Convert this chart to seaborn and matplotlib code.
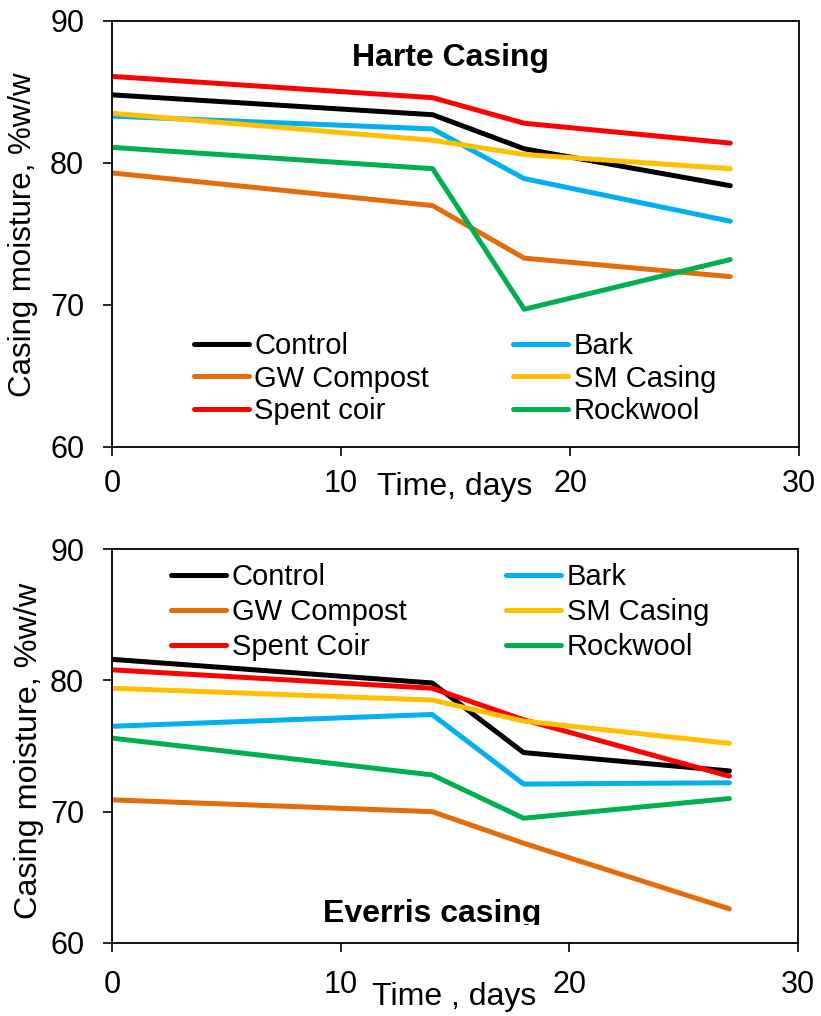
import matplotlib
matplotlib.use("Agg")
import matplotlib.pyplot as plt
from matplotlib.transforms import Bbox, TransformedBbox
import seaborn as sns
import pandas as pd

# ---- data ----
days = [0, 14, 18, 27]
treatments_top = ["Control", "GW Compost", "Spent coir", "Bark", "SM Casing", "Rockwool"]
treatments_bot = ["Control", "GW Compost", "Spent Coir", "Bark", "SM Casing", "Rockwool"]

harte_control = [84.8, 83.4, 81.0, 78.4]
harte_gw = [79.3, 77.0, 73.3, 72.0]
harte_coir = [86.1, 84.6, 82.8, 81.4]
harte_bark = [83.3, 82.4, 78.9, 75.9]
harte_sm = [83.5, 81.6, 80.6, 79.6]
harte_rock = [81.1, 79.6, 69.7, 73.2]

everris_control = [81.6, 79.8, 74.5, 73.1]
everris_gw = [70.9, 70.0, 67.6, 62.6]
everris_coir = [80.8, 79.4, 77.0, 72.7]
everris_bark = [76.5, 77.4, 72.1, 72.2]
everris_sm = [79.4, 78.5, 76.9, 75.2]
everris_rock = [75.6, 72.8, 69.5, 71.0]

colors = ["#000000", "#E46C0A", "#FF0000", "#00B0F0", "#FFC000", "#00B050"]
x_ticks = [0, 10, 20, 30]
y_ticks = [60, 70, 80, 90]


def long_df(names, series):
    rows = []
    for n, s in zip(names, series):
        for d, v in zip(days, s):
            rows.append({"Time": d, "Moisture": v, "Treatment": n})
    return pd.DataFrame(rows)


df_top = long_df(treatments_top, [harte_control, harte_gw, harte_coir,
                                  harte_bark, harte_sm, harte_rock])
df_bot = long_df(treatments_bot, [everris_control, everris_gw, everris_coir,
                                  everris_bark, everris_sm, everris_rock])

sns.set_theme(style="ticks")
plt.rcParams["font.family"] = ["Liberation Sans", "DejaVu Sans"]
plt.rcParams["text.color"] = "black"
plt.rcParams["axes.labelcolor"] = "black"
plt.rcParams["xtick.color"] = "black"
plt.rcParams["ytick.color"] = "black"

fig = plt.figure(figsize=(8.21, 10.16), dpi=100)
W, H = 821, 1016
ax1 = fig.add_axes([112 / W, 1 - 447 / H, 687 / W, 426 / H])
ax2 = fig.add_axes([112 / W, 1 - 943 / H, 686 / W, 394 / H])

LW = 3.6


def draw(ax, df, names, title, tx, ty, leg_anchor, colsp, lsp, xpad, xlabel, xl_y):
    pal = dict(zip(names, colors))
    sns.lineplot(data=df, x="Time", y="Moisture", hue="Treatment", hue_order=names,
                 palette=pal, lw=LW, ax=ax, legend=True, solid_capstyle="round")
    ax.set_xlim(0, 30)
    ax.set_ylim(60, 90)
    ax.set_xticks(x_ticks)
    ax.set_yticks(y_ticks)
    ax.tick_params(axis="both", labelsize=22, length=6.5, width=1.2,
                   direction="out", colors="black", labelcolor="black")
    ax.tick_params(axis="y", pad=13.5)
    ax.tick_params(axis="x", pad=xpad)
    for s in ax.spines.values():
        s.set_visible(True)
        s.set_linewidth(1.3)
        s.set_color("black")
    ax.set_xlabel("")
    ax.set_ylabel("")
    h, l = ax.get_legend_handles_labels()
    for hh in h:
        hh.set_linewidth(LW)
        hh.set_solid_capstyle("round")
    ax.legend(h, l, ncol=2, loc="upper left", bbox_to_anchor=leg_anchor,
              frameon=False, fontsize=21, handlelength=1.88, handletextpad=0.2,
              columnspacing=colsp, labelspacing=lsp, borderpad=0, borderaxespad=0)
    t = ax.text(tx, ty, title, transform=ax.transAxes, ha="center", va="center",
                fontsize=23, fontweight="bold", color="black")
    ax.text(0.499, xl_y, xlabel, transform=ax.transAxes, ha="center", va="center",
            fontsize=23, color="black")
    return t


draw(ax1, df_top, treatments_top, "Harte Casing", 0.492, 0.913,
     (0.119, 0.27), 2.88, 0.16, 9.4, "Time, days", -0.094)
t2 = draw(ax2, df_bot, treatments_bot, "Everris casing", 0.467, 0.074,
          (0.086, 0.965), 3.42, 0.25, 13.0, "Time , days", -0.137)
# the reference crops the descenders of this title
t2.set_clip_on(True)
t2.set_clip_box(TransformedBbox(Bbox([[0, 1 - 925 / H], [1, 1]]), fig.transFigure))

fig.text(23 / W, 1 - 235 / H, "Casing moisture, %w/w", rotation=90,
         ha="center", va="center", fontsize=22.5, color="black")
fig.text(29 / W, 1 - 751 / H, "Casing moisture, %w/w", rotation=90,
         ha="center", va="center", fontsize=23.3, color="black")

fig.savefig("out.png", dpi=100, facecolor="white")
